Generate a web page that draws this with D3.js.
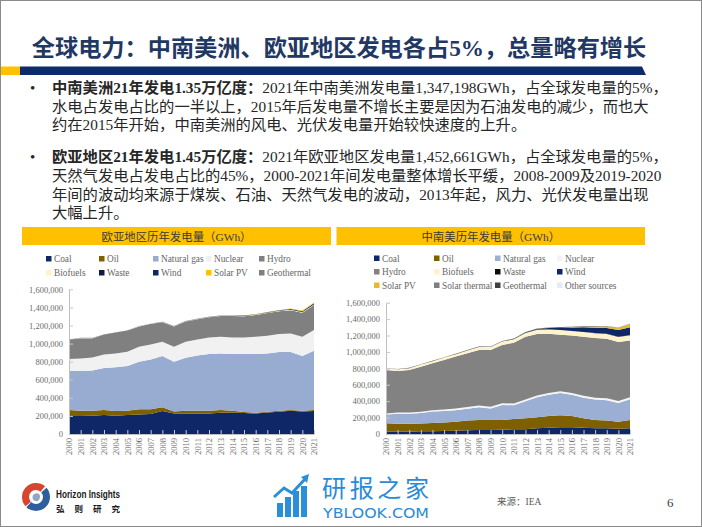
<!DOCTYPE html>
<html><head><meta charset="utf-8">
<script src="https://cdn.jsdelivr.net/npm/d3@7"></script>
<style>body{margin:0;background:#fff}svg{display:block}</style>
</head><body><svg id="c" width="702" height="527"></svg>
<script>
// ---------- DATA ----------
const years = [2000,2001,2002,2003,2004,2005,2006,2007,2008,2009,2010,2011,2012,2013,2014,2015,2016,2017,2018,2019,2020,2021];
const yTicks = [0,200000,400000,600000,800000,1000000,1200000,1400000,1600000];

// Eurasia (欧亚地区), GWh
const eaCoal = [199000,199000,203000,210000,203000,210000,217000,221000,254000,228000,228000,228000,228000,236000,236000,232000,228000,239000,247000,258000,250000,254000];
const eaOil = [66000,59000,55000,55000,51000,48000,56000,52000,41000,22000,30000,30000,30000,29000,22000,11000,8000,8000,11000,7000,8000,11000];
const eaGas = [431000,438000,445000,464000,483000,493000,526000,552000,567000,549000,585000,611000,626000,626000,626000,641000,648000,644000,648000,641000,604000,656000];
const eaNuclear = [133000,140000,144000,151000,154000,159000,166000,166000,158000,166000,177000,177000,184000,184000,184000,184000,191000,195000,199000,206000,213000,228000];
const eaHydro = [213000,224000,213000,217000,228000,231000,224000,228000,217000,224000,224000,223000,223000,230000,236000,235000,242000,252000,253000,257000,267000,278000];
const eaBiofuels = [1400,1500,1500,1700,1800,1900,2000,2100,2300,2200,2500,2600,2800,2900,3100,3000,3200,3400,3500,3700,3900,4000];
const eaWaste = [1000,1000,1100,1100,1200,1200,1300,1300,1400,1300,1400,1500,1500,1600,1600,1700,1700,1800,1900,1900,2000,2100];
const eaWind = [100,100,100,200,200,200,300,300,400,400,500,600,800,1000,1500,2100,2600,3200,4300,6200,9100,12000];
const eaSolarPV = [0,0,0,0,0,0,0,0,0,0,0,100,200,300,500,1400,2400,3100,4100,5900,7600,8300];
const eaGeothermal = [300,300,300,400,400,400,400,400,400,400,400,400,400,400,400,400,400,400,400,500,500,500];

// Central & South America (中南美), GWh
const csCoal = [28000,28000,28000,33000,33000,37000,41000,45000,49000,49000,53000,57000,57000,69000,77000,81000,81000,77000,69000,69000,65000,69000];
const csOil = [102000,98000,98000,95000,101000,103000,109000,118000,122000,122000,118000,126000,134000,134000,143000,147000,139000,114000,102000,94000,85000,102000];
const csGas = [108000,122000,121000,128000,140000,141000,140000,146000,156000,141000,183000,167000,207000,245000,258000,272000,257000,252000,248000,248000,228000,252000];
const csNuclear = [12000,14000,15000,14000,16000,17000,20000,19000,21000,20000,21000,22000,22000,22000,22000,22000,23000,22000,23000,24000,24000,25000];
const csHydro = [530000,506000,518000,551000,572000,604000,633000,656000,676000,692000,710000,740000,765000,750000,722000,688000,700000,720000,728000,725000,718000,690000];
const csBiofuels = [19000,21000,22000,25000,26000,29000,30000,33000,35000,36000,41000,43000,47000,51000,52000,56000,55000,58000,59000,60000,63000,65000];
const csWaste = [500,500,600,600,700,700,800,800,900,900,1000,1000,1100,1200,1200,1300,1400,1400,1500,1600,1600,1700];
const csWind = [200,300,400,400,500,600,800,1000,1500,2100,3000,4200,6300,10000,18000,30000,42000,55000,63000,70000,82000,95000];
const csSolarPV = [0,0,0,0,0,0,0,0,0,0,0,0,100,100,500,1500,4000,8200,14000,20000,28000,40000];
const csSolarThermal = [0,0,0,0,0,0,0,0,0,0,0,0,0,0,0,0,0,0,0,0,0,0];
const csGeothermal = [3000,3100,3100,3200,3300,3400,3500,3600,3700,3700,3800,3900,4000,4000,4100,4100,4200,4200,4300,4300,4400,4400];
const csOther = [1000,1000,1000,1000,1100,1100,1100,1200,1200,1200,1300,1300,1400,1400,1500,1500,1600,1600,1700,1700,1800,1800];

const eaSeries = [
  ["Coal", eaCoal, "#0E2766"], ["Oil", eaOil, "#7F6000"], ["Natural gas", eaGas, "#98ABD0"],
  ["Nuclear", eaNuclear, "#F1F1F1"], ["Hydro", eaHydro, "#808080"], ["Biofuels", eaBiofuels, "#FFF2CC"],
  ["Waste", eaWaste, "#101C3F"], ["Wind", eaWind, "#0E2766"], ["Solar PV", eaSolarPV, "#FFC000"],
  ["Geothermal", eaGeothermal, "#7F7F7F"]
];
const csSeries = [
  ["Coal", csCoal, "#0E2766"], ["Oil", csOil, "#7F6000"], ["Natural gas", csGas, "#9BAFD4"],
  ["Nuclear", csNuclear, "#F4F4F4"], ["Hydro", csHydro, "#828282"], ["Biofuels", csBiofuels, "#FFF2CC"],
  ["Waste", csWaste, "#0D0D0D"], ["Wind", csWind, "#0E2766"], ["Solar PV", csSolarPV, "#E8B92E"],
  ["Solar thermal", csSolarThermal, "#7F7F7F"], ["Geothermal", csGeothermal, "#404040"], ["Other sources", csOther, "#E6ECF5"]
];

const titleText = "全球电力：中南美洲、欧亚地区发电各占5%，总量略有增长";
const bullets = [
  [[["中南美洲21年发电1.35万亿度：",true],["2021年中南美洲发电量1,347,198GWh，占全球发电量的5%，",false]],
   [["水电占发电占比的一半以上，2015年后发电量不增长主要是因为石油发电的减少，而也大",false]],
   [["约在2015年开始，中南美洲的风电、光伏发电量开始较快速度的上升。",false]]],
  [[["欧亚地区21年发电1.45万亿度：",true],["2021年欧亚地区发电量1,452,661GWh，占全球发电量的5%，",false]],
   [["天然气发电占发电占比的45%，2000-2021年间发电量整体增长平缓，2008-2009及2019-2020",false]],
   [["年间的波动均来源于煤炭、石油、天然气发电的波动，2013年起，风力、光伏发电量出现",false]],
   [["大幅上升。",false]]]
];

// ---------- DRAW ----------
const svg = d3.select("#c");
const serif = "'Liberation Serif','Noto Sans CJK SC',serif";
svg.append("rect").attr("x",0.5).attr("y",0.5).attr("width",701).attr("height",526)
  .attr("fill","#fff").attr("stroke","#8a8a8a").attr("stroke-width",1);

// title
svg.append("text").attr("x",339).attr("y",56).attr("text-anchor","middle")
  .style("font-family",serif).style("font-size","23.2px").style("font-weight","bold")
  .attr("fill","#1F3864").text(titleText);
// bar under title
svg.append("rect").attr("x",1).attr("y",66.5).attr("width",19).attr("height",8.5).attr("fill","#FFC000");
svg.append("path").attr("d","M20,66.5 L642,66.5 L646,75 L20,75 Z").attr("fill","#0D2A6B");

// bullets
const lineY = [[93,112,130],[162,181,200,218]];
bullets.forEach((b,bi)=>{
  svg.append("text").attr("x",30).attr("y",lineY[bi][0]).style("font-family",serif)
    .style("font-size","15px").attr("fill","#262626").text("•");
  b.forEach((ln,li)=>{
    const t = svg.append("text").attr("x",52).attr("y",lineY[bi][li])
      .style("font-family",serif).style("font-size","15.3px").attr("fill","#262626");
    ln.forEach(seg=>{
      t.append("tspan").style("font-weight",seg[1]?"bold":"normal").text(seg[0]);
    });
  });
});

function drawChart(cfg){
  const g = svg.append("g");
  // header
  g.append("rect").attr("x",cfg.hx).attr("y",227).attr("width",cfg.hw).attr("height",18).attr("fill","#FFC000");
  g.append("text").attr("x",cfg.hx+cfg.hw/2).attr("y",240.5).attr("text-anchor","middle")
    .style("font-family",serif).style("font-size","11.4px").attr("fill","#3a3a3a").text(cfg.title);
  // legend
  cfg.series.forEach((s,i)=>{
    const r = Math.floor(i/cfg.cols), c = i%cfg.cols;
    const tx = cfg.legX[c], ty = cfg.legY[r];
    g.append("rect").attr("x",tx-8).attr("y",ty-3).attr("width",5.5).attr("height",5.5).attr("fill",s[2]);
    g.append("text").attr("x",tx).attr("y",ty+3).style("font-family",serif).style("font-size","9.3px")
      .attr("fill","#666").text(s[0]);
  });
  const keys = cfg.series.map(s=>s[0]);
  const rows = years.map((yr,i)=>{ const o={year:yr}; cfg.series.forEach(s=>o[s[0]]=s[1][i]); return o; });
  const stacked = d3.stack().keys(keys)(rows);
  const x = d3.scaleLinear().domain([years[0],years[years.length-1]]).range(cfg.xr);
  const y = d3.scaleLinear().domain([0,1600000]).range(cfg.yr);
  const area = d3.area().x(d=>x(d.data.year)).y0(d=>y(d[0])).y1(d=>y(d[1]));
  g.selectAll(".ar").data(stacked).join("path").attr("d",area)
    .attr("fill",(d,i)=>cfg.series[i][2]);
  const ya = g.append("g").attr("transform",`translate(${cfg.xr[0]},0)`)
    .call(d3.axisLeft(y).tickValues(yTicks).tickFormat(d3.format(",")).tickSizeInner(-4).tickSizeOuter(0).tickPadding(6));
  const xa = g.append("g").attr("transform",`translate(0,${cfg.yr[0]})`)
    .call(d3.axisBottom(x).tickValues(years).tickFormat(d=>String(d)).tickSizeInner(-4).tickSizeOuter(0));
  [ya,xa].forEach(a=>{
    a.select(".domain").attr("stroke","#BFBFBF");
    a.selectAll(".tick line").attr("stroke","#C8C8C8");
    a.selectAll("text").style("font-family",serif).style("font-size","8.5px").attr("fill","#6b6b6b");
  });
  xa.selectAll("text").attr("transform","rotate(-90)").attr("x",-4).attr("y",0).attr("dy","0.35em")
    .style("text-anchor","end");
}

drawChart({series:eaSeries, title:"欧亚地区历年发电量（GWh）", hx:22, hw:309, cols:5,
  legX:[54,107,161,214,267], legY:[259,273], xr:[69,314], yr:[434,289.3]});
drawChart({series:csSeries, title:"中南美历年发电量（GWh）", hx:336.5, hw:308.5, cols:4,
  legX:[382,442,503,565], legY:[258.5,272,285.5], xr:[386,630], yr:[434,302.7]});

// footer: logo
const lg = svg.append("g").attr("transform","translate(36,497)");
lg.append("path").attr("d",d3.arc()({innerRadius:7,outerRadius:14,startAngle:-2.3,endAngle:0.7})).attr("fill","#D8452E");
lg.append("path").attr("d",d3.arc()({innerRadius:7,outerRadius:14,startAngle:0.85,endAngle:3.9})).attr("fill","#2F5E9E");
lg.append("path").attr("d","M-3,-2 C2,-6 6,-2 3,3 C0,6 -5,3 -3,-2Z").attr("fill","#8FA6C8");
svg.append("text").attr("x",56).attr("y",498).attr("textLength",64).attr("lengthAdjust","spacingAndGlyphs")
  .style("font-family","'Liberation Sans',sans-serif").style("font-weight","bold").style("font-size","10.5px")
  .attr("fill","#1a1a1a").text("Horizon Insights");
svg.append("text").attr("x",56).attr("y",512).attr("textLength",64).attr("lengthAdjust","spacing")
  .style("font-family","'Noto Sans CJK SC',sans-serif").style("font-weight","bold").style("font-size","8.5px")
  .attr("fill","#1a1a1a").text("弘则研究");

// watermark
const wm = svg.append("g");
[[277,503,5,14],[285,497,5,20],[293,491,5,26],[301,486,5,31]].forEach(b=>{
  wm.append("rect").attr("x",b[0]).attr("y",b[1]).attr("width",b[2]+1).attr("height",b[3]).attr("fill","#2A8FD8");
});
wm.append("path").attr("d","M274,497 L284,488 L292,493 L306,478").attr("fill","none").attr("stroke","#2A8FD8").attr("stroke-width",3);
wm.append("path").attr("d","M301,477 L309,474 L307,483 Z").attr("fill","#2A8FD8");
svg.append("text").attr("x",322).attr("y",497).attr("textLength",107)
  .style("font-family","'Noto Sans CJK SC',sans-serif").style("font-size","24px").attr("fill","#2A8BD6").text("研报之家");
svg.append("text").attr("x",323).attr("y",518).attr("textLength",106).attr("lengthAdjust","spacingAndGlyphs")
  .style("font-family","'DejaVu Sans',sans-serif").style("font-size","14px").attr("fill","#2A8BD6").text("YBLOOK.COM");

svg.append("text").attr("x",497).attr("y",505).style("font-family",serif).style("font-size","9.5px")
  .attr("fill","#595959").text("来源：IEA");
svg.append("text").attr("x",667).attr("y",507).style("font-family",serif).style("font-size","13px")
  .attr("fill","#404040").text("6");
</script></body></html>
